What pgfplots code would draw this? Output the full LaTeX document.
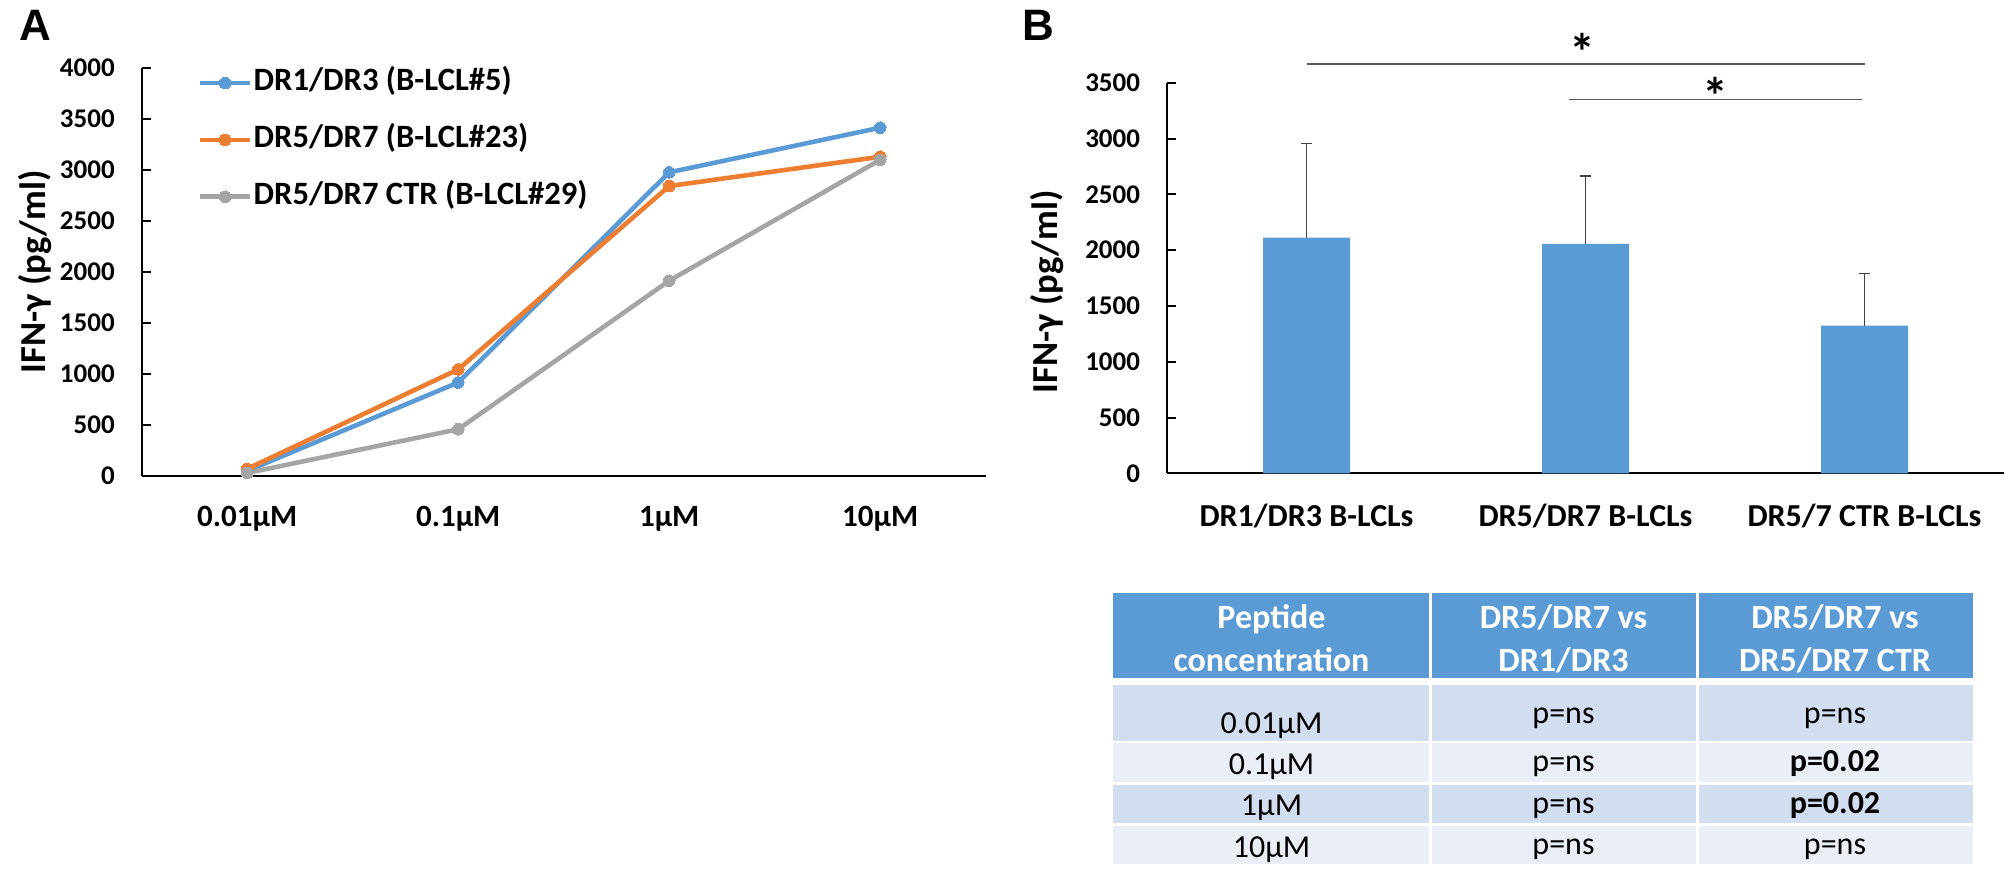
\documentclass[border=0pt]{standalone}
\usepackage{pgfplots}
\pgfplotsset{compat=1.18}
\usepackage{fontspec}
\setmainfont{Carlito}
\newfontfamily\panelfont{Liberation Sans}
\definecolor{xblue}{HTML}{5B9BD5}
\definecolor{xorange}{HTML}{ED7D31}
\definecolor{xgray}{HTML}{A5A5A5}
\definecolor{band1}{HTML}{D2DEEF}
\definecolor{band2}{HTML}{EAEFF7}
\definecolor{sigline}{HTML}{595959}
\definecolor{errc}{HTML}{404040}
\newcommand\fs[1]{\fontsize{#1}{#1}\selectfont}
\begin{document}
\begin{tikzpicture}
\path[use as bounding box] (0,0) rectangle (1008pt,-439pt);

% ---------------- Panel A ----------------
\begin{axis}[
  at={(70.85pt,-238pt)}, anchor=south west,
  scale only axis, width=422pt, height=204pt,
  xmin=-0.5, xmax=3.5, ymin=0, ymax=4000,
  axis x line*=bottom, axis y line*=left,
  axis line style={black, line width=1pt},
  xtick={0,1,2,3}, xticklabels={0.01µM,0.1µM,1µM,10µM},
  x tick style={draw=none},
  ytick={0,500,...,4000},
  y tick style={black, line width=1pt},
  major tick length=4.5pt, tick align=inside,
  scaled y ticks=false,
  /pgf/number format/assume math mode=true,
  /pgf/number format/1000 sep={},
  yticklabel style={font=\bfseries\fs{13.5}, anchor=east, inner sep=0pt, xshift=-13.3pt},
  xticklabel style={font=\bfseries\fs{15.5}, anchor=base, inner sep=0pt, yshift=-25.35pt},
  legend style={at={(0.066,1.005)}, anchor=north west, draw=none, fill=none,
    inner sep=0pt, row sep=11.6pt, font=\bfseries\fs{16.3},
    nodes={inner sep=0.65pt, text height=11.5pt, text depth=4pt}},
  legend cell align=left,
  legend image code/.code={\draw[mark repeat=2,mark phase=2,#1] plot coordinates {(0pt,0pt)(12.5pt,0pt)(25pt,0pt)};},
  clip=false,
]
\addplot[xblue, line width=2.3pt, mark=*, mark size=2.9pt, mark options={fill=xblue, draw=xblue, line width=0pt}]
  coordinates {(0,50)(1,917)(2,2977)(3,3415)};
\addlegendentry{DR1/DR3 (B-LCL\#5)}
\addplot[xorange, line width=2.3pt, mark=*, mark size=2.9pt, mark options={fill=xorange, draw=xorange, line width=0pt}]
  coordinates {(0,70)(1,1045)(2,2843)(3,3130)};
\addlegendentry{DR5/DR7 (B-LCL\#23)}
\addplot[xgray, line width=2.3pt, mark=*, mark size=2.9pt, mark options={fill=xgray, draw=xgray, line width=0pt}]
  coordinates {(0,30)(1,458)(2,1915)(3,3100)};
\addlegendentry{DR5/DR7 CTR (B-LCL\#29)}
\end{axis}

% ---------------- Panel B ----------------
\begin{axis}[
  at={(583.5pt,-236.65pt)}, anchor=south west,
  scale only axis, width=418.5pt, height=195.3pt,
  xmin=-0.5, xmax=2.5, ymin=0, ymax=3500,
  axis x line*=bottom, axis y line*=left,
  axis line style={black, line width=1pt},
  xtick={0,1,2}, xticklabels={DR1/DR3 B-LCLs, DR5/DR7 B-LCLs, DR5/7 CTR B-LCLs},
  x tick style={draw=none},
  ytick={0,500,...,3500},
  y tick style={black, line width=1pt},
  major tick length=4.5pt, tick align=inside,
  scaled y ticks=false,
  /pgf/number format/assume math mode=true,
  /pgf/number format/1000 sep={},
  yticklabel style={font=\bfseries\fs{13.5}, anchor=east, inner sep=0pt, xshift=-13.3pt},
  xticklabel style={font=\bfseries\fs{16}, anchor=base, inner sep=0pt, yshift=-26.35pt},
  clip=false,
]
\addplot[ybar, bar width=43.5pt, bar shift=0pt, fill=xblue, draw=none,
  error bars/.cd, y dir=plus, y explicit,
  error bar style={errc, line width=0.75pt},
  error mark options={errc, rotate=90, mark size=2.75pt, line width=0.75pt}]
  coordinates {(0,2111) +- (0,846) (1,2055) +- (0,609) (2,1323) +- (0,469)};
\addplot[sigline, line width=0.75pt] coordinates {(0,3667)(2,3667)};
\addplot[sigline, line width=0.75pt] coordinates {(0.94,3351)(1.99,3351)};
\node[font=\bfseries\fs{26}, anchor=north, inner sep=0pt] at (axis cs:0.99,3943) {*};
\node[font=\bfseries\fs{26}, anchor=north, inner sep=0pt] at (axis cs:1.466,3548) {*};
\end{axis}

% ---------------- labels and table ----------------
\begin{scope}[x=0.5pt,y=-0.5pt]
\node[anchor=base west, font=\panelfont\bfseries\fs{22}, inner sep=0pt] at (19.4,40) {A};
\node[anchor=base west, font=\panelfont\bfseries\fs{22}, inner sep=0pt] at (1021.7,40) {B};
\node[rotate=90, font=\bfseries\fs{18.3}, inner sep=0pt] at (35,271.7) {IFN-γ (pg/ml)};
\node[rotate=90, font=\bfseries\fs{18.3}, inner sep=0pt] at (1046.7,291.7) {IFN-γ (pg/ml)};

\fill[xblue] (1113,593) rectangle (1973,678);
\fill[band1] (1113,685) rectangle (1973,740.5);
\fill[band2] (1113,743) rectangle (1973,782);
\fill[band1] (1113,784.5) rectangle (1973,823);
\fill[band2] (1113,825.5) rectangle (1973,863.5);
\draw[white, line width=1.5pt] (1430,590) -- (1430,866) (1697,590) -- (1697,866);

\begin{scope}[every node/.style={anchor=base, inner sep=0pt, text=white, font=\bfseries\fs{17}}]
\node at (1271.5,628.3) {Peptide};
\node at (1271.5,671.7) {concentration};
\node at (1563.5,628.3) {DR5/DR7 vs};
\node at (1563.5,671.7) {DR1/DR3};
\node at (1835,628.3) {DR5/DR7 vs};
\node at (1835,671.7) {DR5/DR7 CTR};
\end{scope}
\begin{scope}[every node/.style={anchor=base, inner sep=0pt, text=black, font=\fs{16}}]
\node at (1271.5,733.3) {0.01µM};
\node at (1563.5,723.3) {p=ns};
\node at (1835,723.3) {p=ns};
\node at (1271.5,774) {0.1µM};
\node at (1563.5,771.7) {p=ns};
\node[font=\bfseries\fs{16}] at (1835,771.7) {p=0.02};
\node at (1271.5,815) {1µM};
\node at (1563.5,813) {p=ns};
\node[font=\bfseries\fs{16}] at (1835,813) {p=0.02};
\node at (1271.5,857.3) {10µM};
\node at (1563.5,854.3) {p=ns};
\node at (1835,854.3) {p=ns};
\end{scope}
\end{scope}
\end{tikzpicture}
\end{document}
